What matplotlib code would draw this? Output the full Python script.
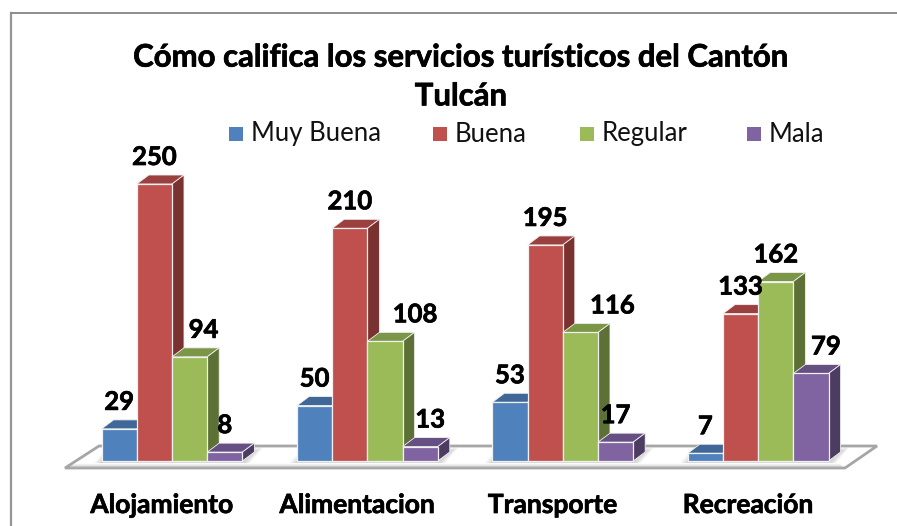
import numpy as np
import matplotlib
matplotlib.use("Agg")
import matplotlib.pyplot as plt
import matplotlib.patheffects as pe
from matplotlib.patches import Polygon, Rectangle

plt.rcParams['font.family'] = ['Lato', 'DejaVu Sans']

categories = ["Alojamiento", "Alimentacion", "Transporte", "Recreación"]
series_names = ["Muy Buena", "Buena", "Regular", "Mala"]
muy_buena = [29, 50, 53, 7]
buena = [250, 210, 195, 133]
regular = [94, 108, 116, 162]
mala = [8, 13, 17, 79]
title = "Cómo califica los servicios turísticos del Cantón\nTulcán"

front_colors = ["#4F81BD", "#C0504D", "#9BBB59", "#8064A2"]
top_colors = ["#3F6797", "#9A403E", "#7C9647", "#664F82"]
side_colors = ["#2F4D71", "#7A3230", "#5D7035", "#4D3C61"]

W, H = 897, 526
fig = plt.figure(figsize=(W / 100, H / 100), dpi=100)
ax = fig.add_axes([0, 0, 1, 1])

# scale: group spacing 195.4 px, 1.108 px per value, zero line at y=461
px_x = 195.4
px_y = 1.108
x0 = 172.0
y0 = 461.0
ax.set_xlim(-x0 / px_x, (W - x0) / px_x)
ax.set_ylim(-(H - y0) / px_y, y0 / px_y)
ax.axis("off")

heavy = [pe.withStroke(linewidth=0.5, foreground="black")]


def to_x(p):
    return (p - x0) / px_x


def to_y(p):
    return (y0 - p) / px_y


# outer frame
ax.plot([to_x(11), to_x(11)], [to_y(526), to_y(13)], color="#959595", lw=1.6)
ax.plot([to_x(11), to_x(897)], [to_y(13), to_y(13)], color="#8C8C8C", lw=1.4)

# floor
floor = [(65, 468), (845, 468), (877, 446), (99, 446)]
ax.add_patch(Polygon([(to_x(a), to_y(b)) for a, b in floor], closed=True, fc="white",
                     ec="#A6A6A6", lw=2, zorder=1, joinstyle="miter"))

# band along the front edge of the floor
for i in range(4):
    ax.plot([to_x(69 + i), to_x(842 - i)], [to_y(466.5 - i), to_y(466.5 - i)],
            color="#B0B0B0", alpha=0.5 - i * 0.12, lw=1, zorder=1.6)

# soft shadow around each group of bars
for g in range(4):
    left_px = x0 + g * px_x - 71
    right_px = x0 + g * px_x + 71
    for i in range(7):
        pad = 7 - i
        ax.add_patch(Polygon([(to_x(left_px - pad), to_y(463)), (to_x(right_px + pad), to_y(463)),
                              (to_x(right_px + 13 + pad), to_y(451 - pad * 0.5)),
                              (to_x(left_px + 13 - pad), to_y(451 - pad * 0.5))],
                             closed=True, fc="#707070", alpha=0.045, ec="none", zorder=1.5))

# bars with fake 3d depth
bar_w = 35.2 / px_x
dx = 12 / px_x
dy = 9 / px_y
all_series = [muy_buena, buena, regular, mala]
label_shift = {(2, 0): 14, (2, 1): 30, (2, 2): 32, (3, 1): 10, (3, 3): 15}
for s, vals in enumerate(all_series):
    for g, v in enumerate(vals):
        left = g + (s - 2) * bar_w
        z = 3 + s * 0.01
        ax.add_patch(Polygon([(left, v), (left + bar_w, v), (left + bar_w + dx, v + dy), (left + dx, v + dy)],
                             closed=True, fc=top_colors[s], ec="#F0F0F0", lw=0.6, zorder=z))
        ax.add_patch(Polygon([(left + bar_w, 0), (left + bar_w + dx, dy), (left + bar_w + dx, v + dy), (left + bar_w, v)],
                             closed=True, fc=side_colors[s], ec="#F0F0F0", lw=0.6, zorder=z))
        ax.add_patch(Rectangle((left, 0), bar_w, v, fc=front_colors[s], ec="#F0F0F0", lw=0.9, zorder=z + 0.005))
        shift = label_shift.get((s, g), 0) / px_x
        ax.text(left + bar_w * 0.5 + shift, v + 27 / px_y, str(v), ha="center", va="center",
                fontsize=18.5, fontweight="bold", color="black", zorder=6, path_effects=heavy)

# category labels
for g, c in enumerate(categories):
    ax.text(g - 0.053, to_y(505), c, ha="center", va="center", fontsize=19, fontweight="bold",
            color="black", path_effects=heavy)

# title
ax.text(to_x(461), to_y(77), title, ha="center", va="center", fontsize=22.4, fontweight="bold",
        color="black", linespacing=1.47, path_effects=heavy)

# legend
legend_x = [229, 433, 580, 747]
for name, lx, col in zip(series_names, legend_x, front_colors):
    ax.add_patch(Rectangle((to_x(lx), to_y(141)), 14 / px_x, 14 / px_y, fc=col, ec="none"))
    ax.text(to_x(lx + 21.5), to_y(134), name, ha="left", va="center", fontsize=18.5, color="#111111")

fig.savefig("out.png", dpi=100)
